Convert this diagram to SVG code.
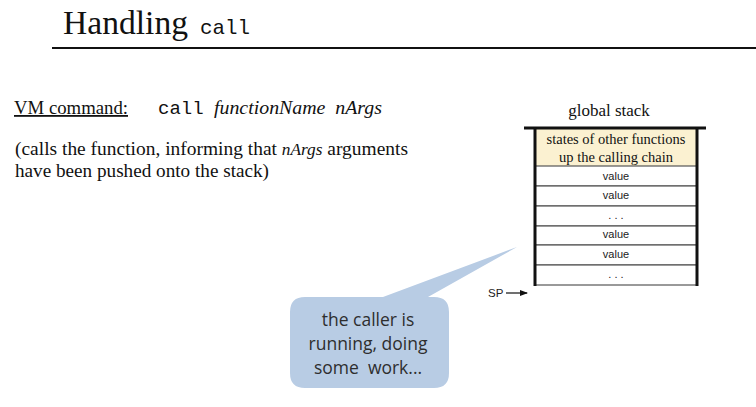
<svg xmlns="http://www.w3.org/2000/svg" width="756" height="407" viewBox="0 0 756 407">
<style>
.serif{font-family:"Liberation Serif","Times New Roman",serif;fill:#111}
.mono{font-family:"Liberation Mono","DejaVu Sans Mono",monospace;fill:#111}
.sans{font-family:"Liberation Sans",Arial,sans-serif;fill:#222}
.cell{fill:#fff;stroke:#555;stroke-width:1.2}
.val{font-family:"Liberation Sans",Arial,sans-serif;font-size:11px;fill:#222;text-anchor:middle}
.bub{font-family:"Open Sans","Noto Sans",sans-serif;font-size:17.5px;fill:#2e2e2e;text-anchor:middle}
</style>
<defs>
<marker id="ah" markerWidth="8" markerHeight="6" refX="7" refY="3" orient="auto" markerUnits="userSpaceOnUse">
<path d="M0,0 L8,3 L0,6 Z" fill="#111"/>
</marker>
</defs>
<rect width="756" height="407" fill="#fff"/>
<g id="title">
<text class="serif" x="63" y="34" font-size="33" textLength="125" lengthAdjust="spacingAndGlyphs">Handling</text>
<text class="mono" x="200" y="34" font-size="21" textLength="50" lengthAdjust="spacingAndGlyphs">call</text>
<line x1="52" y1="48" x2="756" y2="48" stroke="#111" stroke-width="2"/>
</g>
<g id="command">
<text class="serif" x="14" y="114" font-size="18" text-decoration="underline" textLength="114" lengthAdjust="spacingAndGlyphs">VM command:</text>
<text class="mono" x="158" y="114" font-size="19">call</text>
<text class="serif" x="214" y="114" font-size="19" font-style="italic" textLength="168" lengthAdjust="spacingAndGlyphs" xml:space="preserve">functionName  nArgs</text>
<text class="serif" x="15" y="155" font-size="18" textLength="393" lengthAdjust="spacingAndGlyphs">(calls the function, informing that <tspan font-style="italic" font-size="16">nArgs</tspan> arguments</text>
<text class="serif" x="15" y="177" font-size="18" textLength="254" lengthAdjust="spacingAndGlyphs">have been pushed onto the stack)</text>
</g>
<g id="stack">
<text class="serif" x="609" y="116" font-size="17" text-anchor="middle">global stack</text>
<rect x="535" y="128" width="162" height="38" fill="#fbf1d1"/>
<text class="serif" x="616" y="144" font-size="14.5" text-anchor="middle">states of other functions</text>
<text class="serif" x="616" y="162" font-size="14.5" text-anchor="middle">up the calling chain</text>
<rect class="cell" x="535" y="166" width="162" height="20"/>
<rect class="cell" x="535" y="186" width="162" height="20"/>
<rect class="cell" x="535" y="206" width="162" height="20"/>
<rect class="cell" x="535" y="226" width="162" height="19"/>
<rect class="cell" x="535" y="245" width="162" height="20"/>
<rect class="cell" x="535" y="265" width="162" height="20"/>
<text class="val" x="616" y="180">value</text>
<text class="val" x="616" y="199">value</text>
<text class="val" x="616" y="219">. . .</text>
<text class="val" x="616" y="238">value</text>
<text class="val" x="616" y="258">value</text>
<text class="val" x="616" y="278">. . .</text>
<line x1="524" y1="128" x2="706" y2="128" stroke="#111" stroke-width="3"/>
<line x1="535" y1="127" x2="535" y2="286" stroke="#111" stroke-width="3"/>
<line x1="697" y1="127" x2="697" y2="286" stroke="#111" stroke-width="3"/>
</g>
<g id="sp">
<text class="sans" x="488" y="297" font-size="11.5">SP</text>
</g>
<g id="connectors">
<line x1="506" y1="293" x2="527" y2="293" stroke="#111" stroke-width="1.2" marker-end="url(#ah)"/>
</g>
<g id="callout">
<path d="M305,297 L383,297 L517,247 L428,297 L434,297 Q449,297 449,312 L449,373 Q449,388 434,388 L305,388 Q290,388 290,373 L290,312 Q290,297 305,297 Z" fill="#b8cce4"/>
<text class="bub" x="368" y="326">the caller is</text>
<text class="bub" x="368" y="350">running, doing</text>
<text class="bub" x="368" y="374" xml:space="preserve">some  work...</text>
</g>
</svg>
